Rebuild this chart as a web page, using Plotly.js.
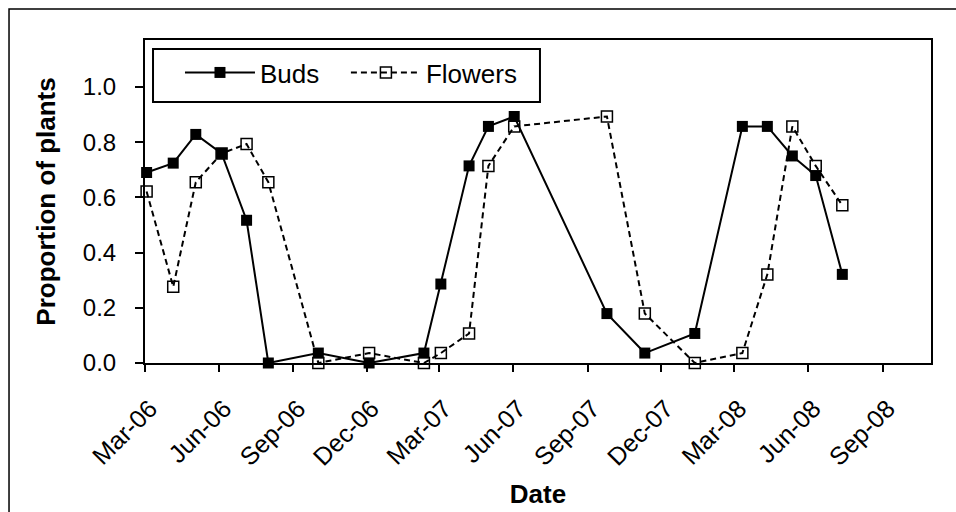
<!DOCTYPE html>
<html>
<head>
<meta charset="utf-8">
<script src="https://cdn.plot.ly/plotly-3.0.1.min.js"></script>
<style>
  body { margin: 0; background: #fff; }
  #chart { width: 956px; height: 512px; }
</style>
</head>
<body>
<div id="chart"></div>
<script>
// survey dates
var dates = ['2006-03-03', '2006-04-05', '2006-05-03', '2006-06-04', '2006-07-05', '2006-08-01',
             '2006-10-02', '2006-12-04', '2007-02-10', '2007-03-03', '2007-04-07', '2007-05-01',
             '2007-06-02', '2007-09-25', '2007-11-11', '2008-01-12', '2008-03-11', '2008-04-11',
             '2008-05-12', '2008-06-10', '2008-07-13'];

// proportion of plants with buds / flowers
var buds    = [0.690, 0.724, 0.828, 0.759, 0.517, 0.000, 0.036, 0.000, 0.036, 0.286, 0.714, 0.857,
               0.893, 0.179, 0.036, 0.107, 0.857, 0.857, 0.750, 0.679, 0.321];
var flowers = [0.621, 0.276, 0.655, 0.759, 0.793, 0.655, 0.000, 0.036, 0.000, 0.036, 0.107, 0.714,
               0.857, 0.893, 0.179, 0.000, 0.036, 0.321, 0.857, 0.714, 0.571];

var yTicks = [0, 0.2, 0.4, 0.6, 0.8, 1.0];

var font = 'Liberation Sans, Arial, sans-serif';
var pad = '\u00a0\u00a0\u00a0'; // extra room between the two legend entries

var budsTrace = {
    x: dates,
    y: buds,
    type: 'scatter',
    mode: 'lines+markers',
    name: 'Buds' + pad,
    cliponaxis: false,
    line: {color: 'black', width: 2},
    marker: {symbol: 'square', size: 11, color: 'black'}
};

var flowersTrace = {
    x: dates,
    y: flowers,
    type: 'scatter',
    mode: 'lines+markers',
    name: 'Flowers',
    cliponaxis: false,
    line: {color: 'black', width: 2, dash: '6px,4px'},
    marker: {symbol: 'square', size: 11, color: 'rgba(255,255,255,0)',
             line: {color: 'black', width: 1.5}}
};

var layout = {
    width: 956,
    height: 512,
    margin: {l: 145, r: 25, t: 40, b: 149},
    paper_bgcolor: 'white',
    plot_bgcolor: 'white',
    font: {family: font, size: 24, color: 'black'},
    showlegend: true,
    legend: {
        orientation: 'h',
        x: 0.0445, y: 0.972,
        xanchor: 'left', yanchor: 'top',
        font: {size: 26},
        bgcolor: 'rgba(0,0,0,0)',
        borderwidth: 0,
        itemwidth: 70
    },
    xaxis: {
        type: 'date',
        range: ['2006-03-01', '2008-10-31'],
        tick0: '2006-03-01',
        dtick: 'M3',
        tickformat: '%b-%y',
        tickangle: -45,
        tickfont: {size: 25},
        ticks: 'outside',
        ticklen: 7,
        tickwidth: 2,
        tickcolor: 'black',
        ticklabelstandoff: 12,
        ticklabelshift: 5,
        showline: true,
        linecolor: 'black',
        linewidth: 2,
        mirror: true,
        showgrid: false,
        zeroline: false,
        title: {text: '<b>Date</b>', font: {size: 26}, standoff: 15}
    },
    yaxis: {
        range: [0, 1.17],
        tickvals: yTicks,
        tickformat: '.1f',
        ticks: 'outside',
        ticklen: 8,
        tickwidth: 2,
        tickcolor: 'black',
        ticklabelstandoff: 14,
        showline: true,
        linecolor: 'black',
        linewidth: 2,
        mirror: true,
        showgrid: false,
        zeroline: false,
        title: {text: '<b>Proportion of plants</b>', font: {size: 26}, standoff: 20}
    },
    shapes: [
        // outer chart border
        {type: 'rect', xref: 'paper', yref: 'paper',
         x0: -0.173, x1: 1.2, y0: -0.6, y1: 1.096,
         line: {color: 'black', width: 1.5}},
        // legend box
        {type: 'rect', xref: 'paper', yref: 'paper',
         x0: 0.0102, x1: 0.5025, y0: 0.808, y1: 0.9721,
         line: {color: 'black', width: 2}}
    ]
};

Plotly.newPlot('chart', [budsTrace, flowersTrace], layout, {displayModeBar: false});
</script>
</body>
</html>
